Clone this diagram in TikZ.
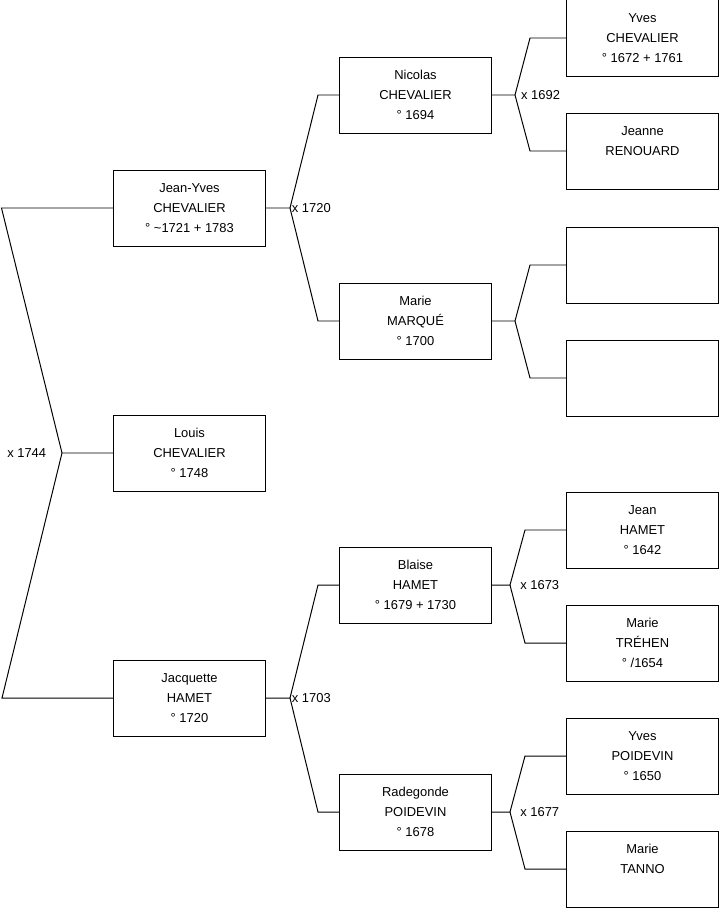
\documentclass[tikz,border=0pt]{standalone}
\usepackage{fontspec}
\setmainfont{Liberation Sans}
\begin{document}
\begin{tikzpicture}[x=0.025cm, y=-0.025cm, line width=0.7pt,
        font=\fontsize{9.2}{14.2}\selectfont,
        b/.style={rectangle, draw, minimum width=3.775cm, minimum height=1.9cm, align=center, inner sep=0pt},
        m/.style={inner sep=1pt}]
        \useasboundingbox (0,0) rectangle (719,908);
        % generation 0
        \node[b] (jy) at (189.5,208) {Jean-Yves\\CHEVALIER\\° \textasciitilde1721 + 1783};
        \node[b] (louis) at (189.5,453) {Louis\\CHEVALIER\\° 1748};
        \node[b] (jacq) at (189.5,698) {Jacquette\\HAMET\\° 1720};
        % generation 1
        \node[b] (nic) at (415.5,95) {Nicolas\\CHEVALIER\\° 1694};
        \node[b] (marq) at (415.5,321) {Marie\\MARQUÉ\\° 1700};
        \node[b] (blaise) at (415.5,585) {Blaise\\HAMET\\° 1679 + 1730};
        \node[b] (rade) at (415.5,812) {Radegonde\\POIDEVIN\\° 1678};
        % generation 2
        \node[b] (yves) at (642.5,38) {Yves\\CHEVALIER\\° 1672 + 1761};
        \node[b] (jeanne) at (642.5,151) {Jeanne\\RENOUARD\\~};
        \node[b] (e1) at (642.5,265) {};
        \node[b] (e2) at (642.5,378) {};
        \node[b] (jean) at (642.5,530) {Jean\\HAMET\\° 1642};
        \node[b] (treh) at (642.5,643) {Marie\\TRÉHEN\\° /1654};
        \node[b] (ypoid) at (642.5,756) {Yves\\POIDEVIN\\° 1650};
        \node[b] (tanno) at (642.5,869) {Marie\\TANNO\\~};
        % forks
        \coordinate (f0) at (62,453);
        \coordinate (f1) at (290,208);
        \coordinate (f2) at (290,698);
        \coordinate (f3) at (515,95);
        \coordinate (f4) at (515,321);
        \coordinate (f5) at (510,585);
        \coordinate (f6) at (510,812);
        \draw (jy.west) -- ++(-112,0) -- (f0) -- (louis.west);
        \draw (f0) -- ++(-60,245) -- (jacq.west);
        \draw (jy.east) -- (f1) -- ++(28,-113) -- (nic.west);
        \draw (f1) -- ++(28,113) -- (marq.west);
        \draw (jacq.east) -- (f2) -- ++(28,-113) -- (blaise.west);
        \draw (f2) -- ++(28,114) -- (rade.west);
        \draw (nic.east) -- (f3) -- ++(15,-57) -- (yves.west);
        \draw (f3) -- ++(15,56) -- (jeanne.west);
        \draw (marq.east) -- (f4) -- ++(15,-56) -- (e1.west);
        \draw (f4) -- ++(15,57) -- (e2.west);
        \draw (blaise.east) -- (f5) -- ++(15,-55) -- (jean.west);
        \draw (f5) -- ++(15,58) -- (treh.west);
        \draw (rade.east) -- (f6) -- ++(15,-56) -- (ypoid.west);
        \draw (f6) -- ++(15,57) -- (tanno.west);
        % marriages
        \node[m, anchor=east] (m0) at (48,453) {x 1744};
        \node[m, anchor=west] (m1) at (f1) {x 1720};
        \node[m, anchor=west] (m2) at (f2) {x 1703};
        \node[m, anchor=west] (m3) at ([xshift=3pt]f3) {x 1692};
        \node[m, anchor=west] (m5) at ([xshift=6pt]f5) {x 1673};
        \node[m, anchor=west] (m6) at ([xshift=6pt]f6) {x 1677};
    \end{tikzpicture}
\end{document}
